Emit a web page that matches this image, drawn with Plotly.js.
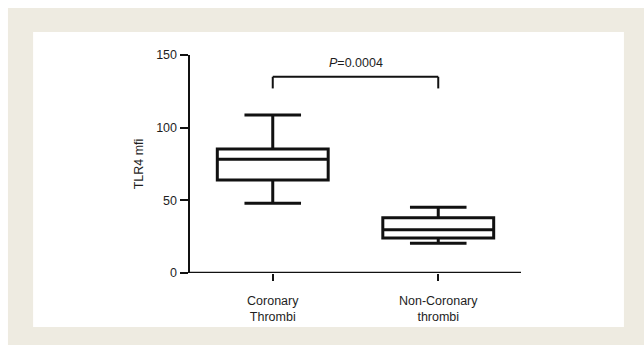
<!DOCTYPE html>
<html>
<head>
<meta charset="utf-8">
<script src="https://cdn.plot.ly/plotly-3.0.1.min.js"></script>
<style>
html,body{margin:0;padding:0;background:#fff;}
#chart{width:644px;height:348px;}
</style>
</head>
<body>
<div id="chart"></div>
<script>
var categories = ["Coronary<br>Thrombi", "Non-Coronary<br>thrombi"];
var lowerFence = [48, 20.4];
var q1Values = [64, 24];
var medianValues = [78.2, 29.8];
var q3Values = [85.3, 38];
var upperFence = [108.7, 45.2];
var yTicks = [0, 50, 100, 150];
var pLabel = "<i>P</i>=0.0004";
var bracketY = 135;
var bracketBottom = 127;

var trace = {
  type: "box",
  x: categories,
  q1: q1Values,
  median: medianValues,
  q3: q3Values,
  lowerfence: lowerFence,
  upperfence: upperFence,
  width: 0.67,
  whiskerwidth: 0.51,
  fillcolor: "rgba(255,255,255,0)",
  line: {color: "#111", width: 3},
  hoverinfo: "skip",
  showlegend: false
};

var fontFam = "Liberation Sans, Arial, sans-serif";
var txtColor = "#1e1e1e";

var layout = {
  width: 644, height: 348, autosize: false,
  margin: {l: 190, r: 123, t: 55, b: 75},
  paper_bgcolor: "#ffffff",
  plot_bgcolor: "rgba(0,0,0,0)",
  font: {family: fontFam, size: 12, color: txtColor},
  showlegend: false,
  xaxis: {
    type: "category",
    range: [-0.5, 1.5],
    showline: false,
    ticks: "outside", ticklen: 7, tickwidth: 2, tickcolor: "#111",
    showgrid: false, zeroline: false,
    tickfont: {family: fontFam, size: 12.5, color: txtColor},
    ticklabelstandoff: 9
  },
  yaxis: {
    range: [0, 150],
    tickvals: yTicks,
    showline: true, linecolor: "#111", linewidth: 2.5,
    ticks: "outside", ticklen: 8, tickwidth: 2, tickcolor: "#111",
    showgrid: false, zeroline: false,
    tickfont: {family: fontFam, size: 12.5, color: txtColor},
    title: {text: "TLR4 mfi", font: {family: fontFam, size: 12.5, color: txtColor}, standoff: 10}
  },
  shapes: [
    {type: "rect", xref: "paper", yref: "paper", x0: -0.55, x1: 1.373, y0: -0.33, y1: 1.216,
     fillcolor: "#eeebe1", line: {width: 0}, layer: "below"},
    {type: "rect", xref: "paper", yref: "paper", x0: -0.474, x1: 1.311, y0: -0.248, y1: 1.106,
     fillcolor: "#ffffff", line: {width: 0}, layer: "below"},
    {type: "line", xref: "paper", yref: "y", x0: -0.004, x1: 1, y0: 0, y1: 0,
     line: {color: "#111", width: 2.5}},
    {type: "line", xref: "x", yref: "y", x0: 0, x1: 1, y0: bracketY, y1: bracketY,
     line: {color: "#111", width: 2}},
    {type: "line", xref: "x", yref: "y", x0: 0, x1: 0, y0: bracketY, y1: bracketBottom,
     line: {color: "#111", width: 2}},
    {type: "line", xref: "x", yref: "y", x0: 1, x1: 1, y0: bracketY, y1: bracketBottom,
     line: {color: "#111", width: 2}}
  ],
  annotations: [
    {xref: "x", yref: "y", x: 0.5, y: bracketY + 3, text: pLabel, showarrow: false,
     yanchor: "bottom", font: {family: fontFam, size: 12.5, color: txtColor}}
  ]
};

Plotly.newPlot("chart", [trace], layout, {staticPlot: true, displayModeBar: false});
</script>
</body>
</html>
